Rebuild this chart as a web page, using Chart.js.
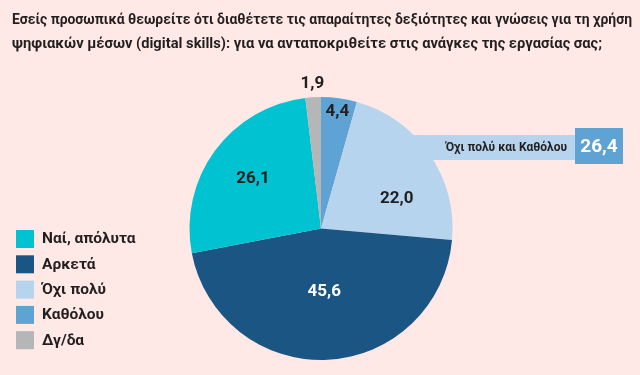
<!DOCTYPE html>
<html>
<head>
<meta charset="utf-8">
<script src="https://cdn.jsdelivr.net/npm/chart.js@4"></script>
<style>
  body { margin: 0; background: #fee9e7; }
  #chart { display: block; }
</style>
</head>
<body>
<canvas id="chart" width="640" height="375"></canvas>
<script>
// Data (clockwise from 12 o'clock)
const categories = ["Καθόλου", "Όχι πολύ", "Αρκετά", "Ναί, απόλυτα", "Δγ/δα"];
const values = [4.4, 22.0, 45.6, 26.1, 1.9];
const colors = ["#5fa3d5", "#b6d4ee", "#1b5584", "#00c2d1", "#b4b6b8"];
const legendOrder = ["Ναί, απόλυτα", "Αρκετά", "Όχι πολύ", "Καθόλου", "Δγ/δα"];
const titleLines = [
  "Εσείς προσωπικά θεωρείτε ότι διαθέτετε τις απαραίτητες δεξιότητες και γνώσεις για τη χρήση",
  "ψηφιακών μέσων (digital skills): για να ανταποκριθείτε στις ανάγκες της εργασίας σας;",
];
const calloutLabel = "Όχι πολύ και Καθόλου";
const calloutParts = ["Όχι πολύ", "Καθόλου"];

const textColor = "#231f20";
const fontFamily = "Roboto, 'Open Sans', sans-serif";

// label placement per slice: radius fraction, angle tweak (deg), colour
const labelStyle = [
  { r: 0.9, da: 0, color: textColor },
  { r: 0.62, da: 13, color: textColor },
  { r: 0.48, da: 0, color: "#ffffff" },
  { r: 0.64, da: 0, color: textColor },
  { r: 1.1, da: 0, color: textColor },
];

function fmt(v) {
  return v.toFixed(1).replace(".", ",");
}

const decorPlugin = {
  id: "decor",
  beforeDatasetsDraw(chart) {
    const ctx = chart.ctx;
    // callout band behind the pie
    ctx.save();
    ctx.fillStyle = colors[1];
    ctx.fillRect(400, 135, 176, 25);
    ctx.restore();
  },
  afterDatasetsDraw(chart) {
    const ctx = chart.ctx;
    const meta = chart.getDatasetMeta(0);
    ctx.save();

    // title, each line squeezed to the width it has in the reference
    ctx.fillStyle = textColor;
    ctx.font = "bold 15px " + fontFamily;
    ctx.textBaseline = "middle";
    ctx.textAlign = "left";
    const titleWidths = [620, 590];
    titleLines.forEach((line, i) => {
      const sx = titleWidths[i] / ctx.measureText(line).width;
      ctx.save();
      ctx.translate(12, 20 + i * 24);
      ctx.scale(sx, 1);
      ctx.fillText(line, 0, 0);
      ctx.restore();
    });

    // slice labels
    ctx.font = "bold 17px " + fontFamily;
    ctx.textAlign = "center";
    meta.data.forEach((arc, i) => {
      const p = arc.getProps(["x", "y", "startAngle", "endAngle", "outerRadius"], true);
      const st = labelStyle[i];
      const a = (p.startAngle + p.endAngle) / 2 + (st.da * Math.PI) / 180;
      const rr = p.outerRadius * st.r;
      ctx.fillStyle = st.color;
      ctx.fillText(fmt(values[i]), p.x + Math.cos(a) * rr, p.y + Math.sin(a) * rr);
    });

    // callout
    const sum = calloutParts.reduce((acc, c) => acc + values[categories.indexOf(c)], 0);
    ctx.fillStyle = colors[0];
    ctx.fillRect(575, 128, 48, 36);
    ctx.fillStyle = "#ffffff";
    ctx.font = "bold 19px " + fontFamily;
    ctx.fillText(fmt(sum), 599, 147);
    ctx.fillStyle = textColor;
    ctx.font = "bold 12px " + fontFamily;
    ctx.textAlign = "right";
    ctx.fillText(calloutLabel, 567, 148);

    // legend
    ctx.textAlign = "left";
    ctx.font = "bold 15.5px " + fontFamily;
    legendOrder.forEach((name, i) => {
      const y = 230 + i * 25.3;
      ctx.fillStyle = colors[categories.indexOf(name)];
      ctx.fillRect(16, y, 18, 18);
      ctx.fillStyle = textColor;
      ctx.fillText(name, 42, y + 9.5);
    });

    ctx.restore();
  },
};

new Chart(document.getElementById("chart"), {
  type: "pie",
  data: {
    labels: categories,
    datasets: [
      {
        data: values,
        backgroundColor: colors,
        borderWidth: 0,
        hoverOffset: 0,
      },
    ],
  },
  options: {
    responsive: false,
    animation: false,
    events: [],
    layout: { padding: { top: 97, bottom: 15, left: 2, right: 0 } },
    plugins: {
      legend: { display: false },
      title: { display: false },
      tooltip: { enabled: false },
    },
  },
  plugins: [decorPlugin],
});
</script>
</body>
</html>
